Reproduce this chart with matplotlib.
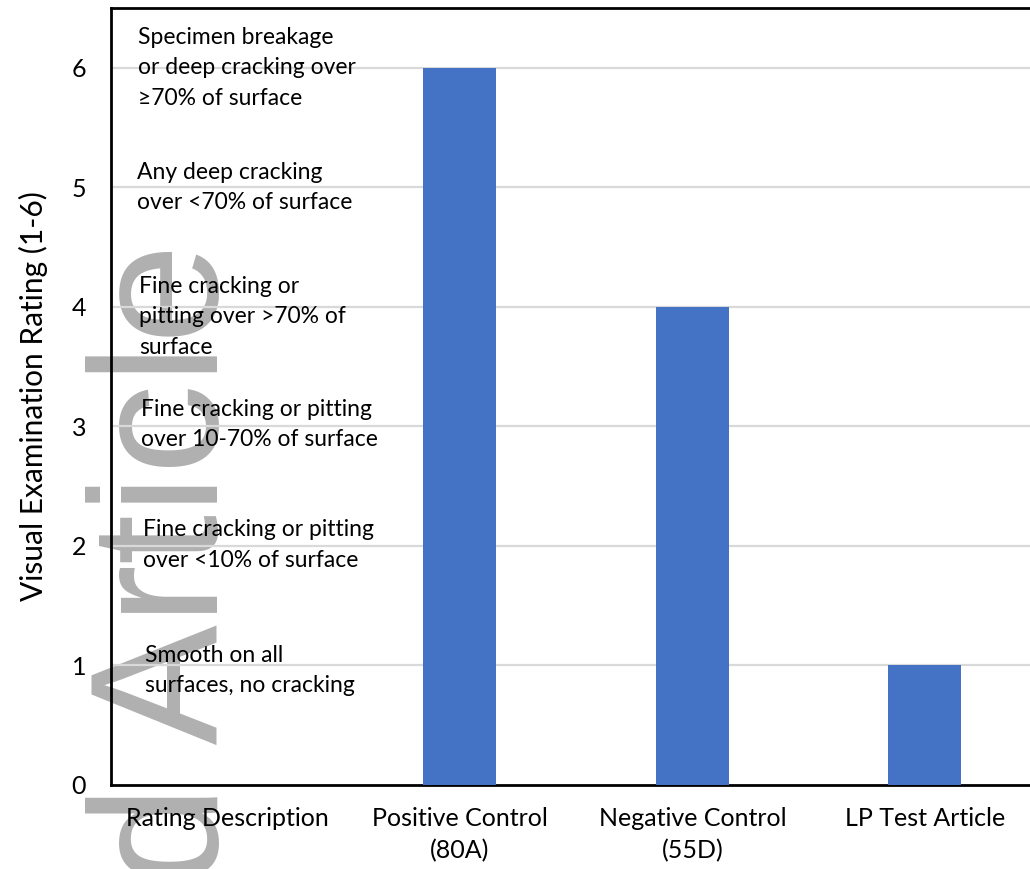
import matplotlib
matplotlib.use("Agg")
import matplotlib.pyplot as plt

plt.rcParams["font.family"] = ["Lato", "DejaVu Sans"]

# Prüfgruppen und Bewertung der Sichtprüfung
kategorien = ["Rating Description", "Positive Control\n(80A)",
              "Negative Control\n(55D)", "LP Test Article"]
bewertung = [0, 6, 4, 1]

# Beschreibung der Bewertungsstufen 1-6
stufen = [6, 5, 4, 3, 2, 1]
beschreibungen = [
    "Specimen breakage\nor deep cracking over\n≥70% of surface",
    "Any deep cracking\nover <70% of surface",
    "Fine cracking or\npitting over >70% of\nsurface",
    "Fine cracking or pitting\nover 10-70% of surface",
    "Fine cracking or pitting\nover <10% of surface",
    "Smooth on all\nsurfaces, no cracking",
]

fig = plt.figure(figsize=(10.30, 8.69), dpi=100)
ax = fig.add_axes([0.1078, 0.0967, 0.903, 0.894])
ax.set_facecolor("none")

x = list(range(len(kategorien)))
ax.bar(x[1:], bewertung[1:], width=0.315, color="#4472C4", zorder=3)

ax.set_xlim(-0.5, 3.5)
ax.set_ylim(0, 6.5)
ax.set_yticks([0, 1, 2, 3, 4, 5, 6])
ax.set_xticks(x)
ax.set_xticklabels(kategorien, fontsize=18, linespacing=1.45)
ax.tick_params(axis="both", length=0)
ax.tick_params(axis="y", pad=18, labelsize=18)
ax.tick_params(axis="x", pad=16)

for y in stufen:
    ax.axhline(y, color="#d9d9d9", linewidth=1.6, zorder=1)

# Texte links leicht gestaffelt, vertikaler Versatz in Pixeln
text_x = [-0.382, -0.39, -0.378, -0.37, -0.362, -0.354]
text_dy = [0, 0, -10, 2, 1, -5]
for tx, dy, stufe, text in zip(text_x, text_dy, stufen, beschreibungen):
    ax.annotate(text, xy=(tx, stufe), xytext=(0, dy),
                textcoords="offset pixels", ha="left", va="center",
                fontsize=16.5, linespacing=1.55, zorder=4)

ax.set_ylabel("Visual Examination Rating (1-6)", fontsize=21.5, labelpad=17)

for seite in ["left", "bottom", "top"]:
    ax.spines[seite].set_color("black")
    ax.spines[seite].set_linewidth(2)
ax.spines["right"].set_visible(False)

# Wasserzeichen hinter dem Diagramm
fig.text(218 / 1030, -16 / 869, "d Article", rotation=90,
         rotation_mode="anchor", ha="left", va="baseline",
         fontsize=130, family="Liberation Sans", color="#b0b0b0", zorder=-1)

fig.savefig("out.png", dpi=100)
